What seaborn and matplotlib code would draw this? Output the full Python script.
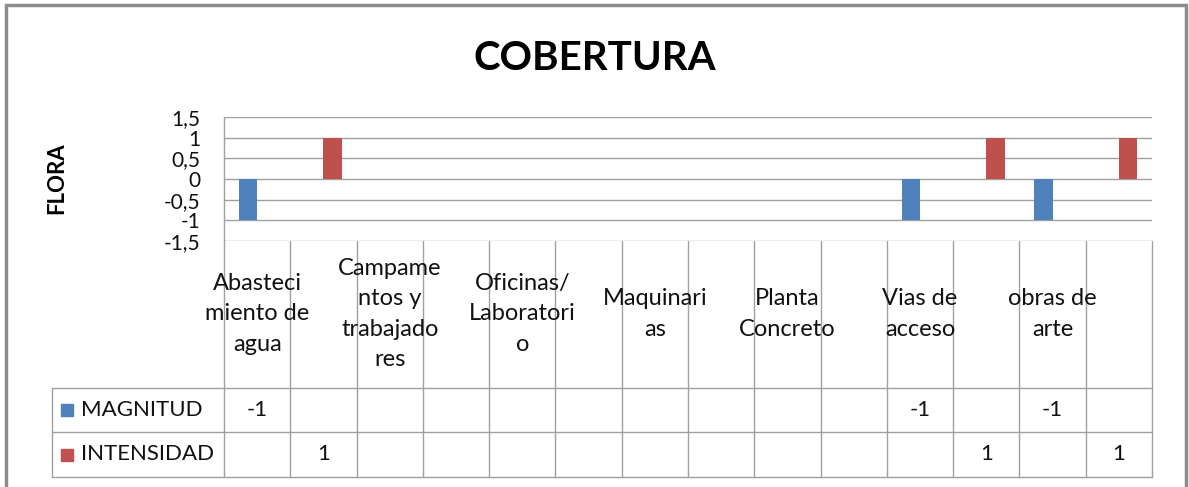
import numpy as np
import pandas as pd
import matplotlib
matplotlib.use("Agg")
import matplotlib.pyplot as plt
import seaborn as sns
from matplotlib.lines import Line2D
from matplotlib.patches import Rectangle
import matplotlib.transforms as mtrans

# ---------------- data ----------------
title = "COBERTURA"
y_label = "FLORA"
header_labels = ["Abasteci\nmiento de\nagua", "", "Campame\nntos y\ntrabajado\nres", "",
                 "Oficinas/\nLaboratori\no", "", "Maquinari\nas", "",
                 "Planta\nConcreto", "", "Vias de\nacceso", "", "obras de\narte", ""]
series_names = ["MAGNITUD", "INTENSIDAD"]
magnitud = [-1, None, None, None, None, None, None, None, None, None, -1, None, -1, None]
intensidad = [None, 1, None, None, None, None, None, None, None, None, None, 1, None, 1]
y_ticks = [-1.5, -1, -0.5, 0, 0.5, 1, 1.5]
colors = ["#4F81BD", "#C0504D"]

# ---------------- style ----------------
sns.set_style("white")
plt.rcParams["font.family"] = ["Lato", "DejaVu Sans"]
plt.rcParams["text.color"] = "black"
plt.rcParams["ytick.color"] = "black"

W, H = 1189, 487
def fx(px):
    return px / W
def fy(py):
    return 1 - py / H

grid_c = "#A0A0A0"
txt_c = "#111111"

fig = plt.figure(figsize=(W / 100, H / 100), dpi=100)
fig.patch.set_facecolor("white")

ax = fig.add_axes([fx(224), fy(241), fx(1152) - fx(224), (241 - 117) / H])

n = len(header_labels)
df = pd.DataFrame({
    "col": list(range(n)) * 2,
    "serie": [series_names[0]] * n + [series_names[1]] * n,
    "valor": [np.nan if v is None else v for v in magnitud + intensidad],
})

sns.barplot(data=df, x="col", y="valor", hue="serie", order=list(range(n)),
            hue_order=series_names, palette=colors, width=0.55, dodge=True,
            errorbar=None, saturation=1, linewidth=0, legend=False, ax=ax)

ax.set_xlim(-0.5, n - 0.5)
ax.set_ylim(-1.5, 1.5)
ax.set_yticks(y_ticks)
ax.set_yticklabels([f"{v:g}".replace(".", ",") for v in y_ticks], fontsize=15, color=txt_c)
ax.tick_params(axis="y", length=0, pad=17)
ax.set_xticks([])
ax.set_xlabel("")
ax.set_ylabel("")
ax.yaxis.grid(True, color=grid_c, lw=1)
ax.set_axisbelow(True)
for s in ["top", "right", "bottom"]:
    ax.spines[s].set_visible(False)
ax.spines["left"].set_color(grid_c)
ax.spines["left"].set_linewidth(1)
ax.patch.set_alpha(0)

# titles
fig.text(fx(595), fy(58), title, ha="center", va="center", fontsize=29,
         fontweight="bold", color="black")
fig.text(fx(57), fy(178), y_label, ha="center", va="center", rotation=90,
         fontsize=16, fontweight="bold", color="black")

# ---------------- data table ----------------
trans = mtrans.blended_transform_factory(ax.transData, fig.transFigure)
for k in range(n + 1):
    fig.add_artist(Line2D([k - 0.5, k - 0.5], [fy(241), fy(477)], transform=trans,
                          color=grid_c, lw=1))
for yy in [388, 432, 477]:
    fig.add_artist(Line2D([fx(52), fx(1152)], [fy(yy), fy(yy)],
                          transform=fig.transFigure, color=grid_c, lw=1))
fig.add_artist(Line2D([fx(52), fx(52)], [fy(388), fy(477)],
                      transform=fig.transFigure, color=grid_c, lw=1))

for i, lab in enumerate(header_labels):
    if lab:
        fig.text(i, fy(314), lab, transform=trans, ha="center", va="center",
                 multialignment="center", fontsize=17, linespacing=1.55, color=txt_c)

row_y = [410, 454.5]
for r, (vals, name, c) in enumerate(zip([magnitud, intensidad], series_names, colors)):
    for i, v in enumerate(vals):
        if v is not None:
            fig.text(i, fy(row_y[r]), f"{v:g}", transform=trans, ha="center",
                     va="center", fontsize=16, color=txt_c)
    fig.add_artist(Line2D([fx(67)], [fy(row_y[r])], transform=fig.transFigure,
                          marker="s", markersize=8, color=c, lw=0))
    fig.text(fx(81), fy(row_y[r]), name, ha="left", va="center", fontsize=16,
             color=txt_c)

# outer border
fig.add_artist(Rectangle((fx(6), fy(540)), fx(1186) - fx(6), fy(5) - fy(540),
                         transform=fig.transFigure, fill=False, ec="#8C8C8C", lw=2.5))

fig.savefig("out.png", dpi=100)
